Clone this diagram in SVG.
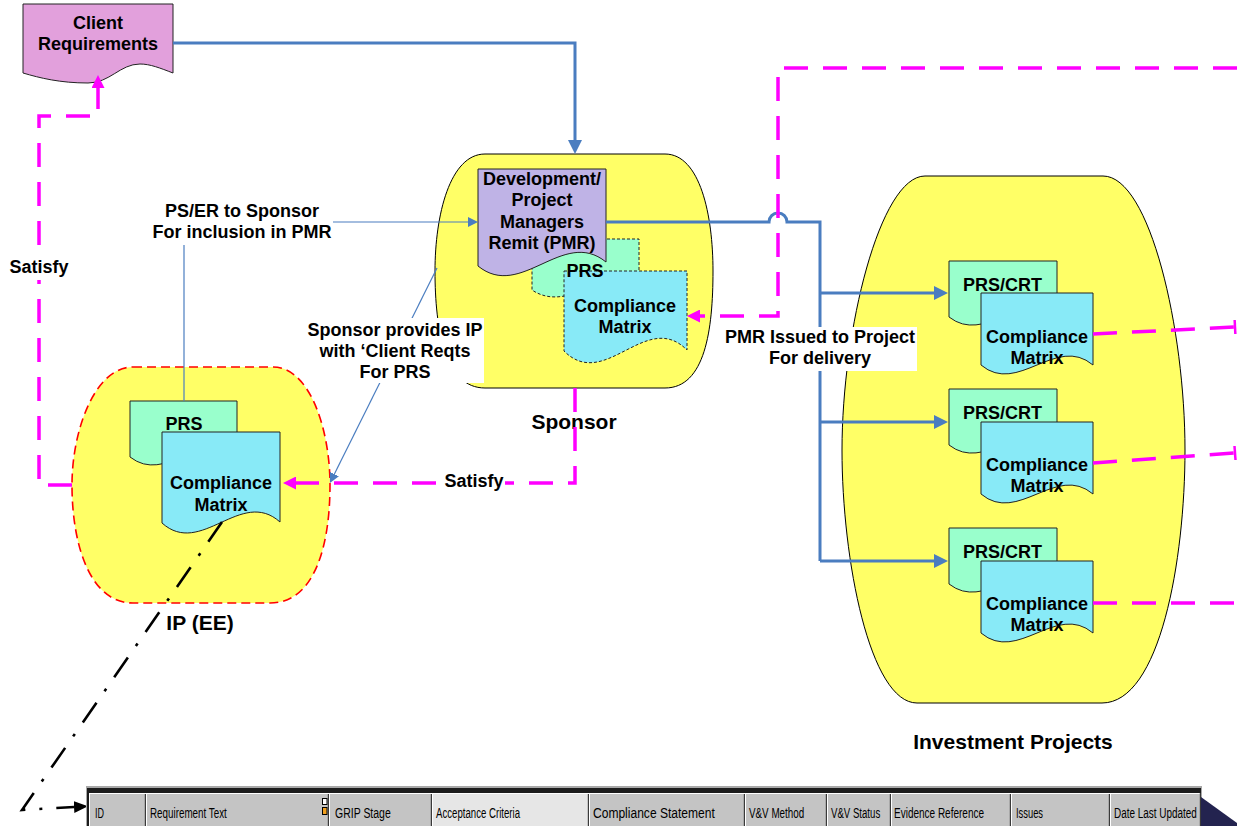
<svg xmlns="http://www.w3.org/2000/svg" width="1237" height="826" viewBox="0 0 1237 826">
<style>
.t{font-family:"Liberation Sans",Arial,sans-serif;font-weight:bold;font-size:18px;text-anchor:middle;fill:#000}
.big{font-size:21px}
.tb{font-family:"Liberation Sans Narrow","Liberation Sans",Arial,sans-serif;font-size:15px;fill:#000}
.blob{fill:#FFFF66;stroke:#000;stroke-width:1}
.ipblob{fill:#FFFF66;stroke:#FF0000;stroke-width:1.6;stroke-dasharray:9 5}
.prs{fill:#99FFCC;stroke:#222;stroke-width:1}
.cm{fill:#88EAF7;stroke:#222;stroke-width:1}
.pmr{fill:#BFB3E6;stroke:#222;stroke-width:1}
.cr{fill:#E2A0DC;stroke:#222;stroke-width:1}
.fine{stroke-dasharray:3 2}
.blue{fill:none;stroke:#4A7DC0;stroke-width:3}
.thin{fill:none;stroke:#4A7DC0;stroke-width:1.2}
.mag{fill:none;stroke:#FF00FF;stroke-width:3.5;stroke-dasharray:24 15}
.dd{fill:none;stroke:#000;stroke-width:2.6;stroke-dasharray:24 14 3 14}
.wbg{fill:#fff}
.cell{fill:#C4C4C4}
.cell2{fill:#E6E6E6}
.dk{stroke:#3a3a3a;stroke-width:1.2;fill:none}
.hl{stroke:#fff;stroke-width:1;fill:none}
</style>
<defs>
<marker id="ab" markerUnits="userSpaceOnUse" markerWidth="14" markerHeight="14" refX="0" refY="7" orient="auto"><path d="M0,0 L14,7 L0,14 Z" fill="#4A7DC0"/></marker>
<marker id="at" markerUnits="userSpaceOnUse" markerWidth="10" markerHeight="10" refX="0" refY="5" orient="auto"><path d="M0,0 L10,5 L0,10 Z" fill="#4A7DC0"/></marker>
<marker id="am" markerUnits="userSpaceOnUse" markerWidth="13" markerHeight="13" refX="0" refY="6.5" orient="auto"><path d="M0,0 L13,6.5 L0,13 Z" fill="#FF00FF"/></marker>
<marker id="ak" markerUnits="userSpaceOnUse" markerWidth="14" markerHeight="12" refX="0" refY="6" orient="auto"><path d="M0,0 L14,6 L0,12 Z" fill="#000"/></marker>
<marker id="tee" markerUnits="userSpaceOnUse" markerWidth="4" markerHeight="16" refX="2" refY="8" orient="auto"><path d="M2,1 V15" stroke="#FF00FF" stroke-width="2.5"/></marker>
</defs>

<g id="client-requirements">
<path class="cr" d="M23,4 H173 V73 C160,68 150,64 140,64 C120,64 110,83 88,83 C60,83 40,78 23,73 Z"/>
<text class="t" x="98" y="29">Client</text>
<text class="t" x="98" y="50">Requirements</text>
</g>

<g id="sponsor">
<path class="blob" d="M485,154 H665 C700,154 713,215 713,271 C713,330 705,388 665,388 H485 C445,388 435,330 435,271 C435,215 450,154 485,154 Z"/>
<g id="sponsor-prs">
<path class="prs fine" d="M532,239 H639 V290 C603,266 568,314 532,290 Z"/>
</g>
<g id="sponsor-cm">
<path class="cm fine" d="M564,271 H687 V350 C646,309 605,392 564,351 Z"/>
<text class="t" x="625" y="312">Compliance</text>
<text class="t" x="625" y="333">Matrix</text>
</g>
<text class="t" x="585" y="277">PRS</text>
<g id="pmr">
<path class="pmr" d="M478,169 H606 V262 C563,227 521,301 478,266 Z"/>
<text class="t" x="542" y="185">Development/</text>
<text class="t" x="542" y="206">Project</text>
<text class="t" x="542" y="228">Managers</text>
<text class="t" x="542" y="249">Remit (PMR)</text>
</g>
<text class="t big" x="574" y="429">Sponsor</text>
</g>

<g id="ip-ee">
<path class="ipblob" d="M133,367 H273 C310,367 330,430 330,485 C330,545 315,603 270,603 H133 C90,603 72,545 72,485 C72,430 95,367 133,367 Z"/>
<g id="ip-prs">
<path class="prs" d="M130,401 H237 V456 C201,428 166,485 130,457 Z"/>
<text class="t" x="184" y="430">PRS</text>
</g>
<g id="ip-cm">
<path class="cm" d="M162,432 H280 V522 C241,487 201,558 162,523 Z"/>
<text class="t" x="221" y="489">Compliance</text>
<text class="t" x="221" y="511">Matrix</text>
</g>
<text class="t big" x="200" y="630">IP (EE)</text>
</g>

<g id="investment-projects">
<path class="blob" d="M925,176 H1103 C1150,176 1185,330 1185,450 C1185,560 1160,703 1102,703 H917 C870,703 842,560 842,450 C842,330 880,176 925,176 Z"/>
<g id="project-1" transform="translate(949,261)">
<path class="prs" d="M0,0 H108 V56 C72,28 36,84 0,56 Z"/>
<text class="t" x="53.5" y="30">PRS/CRT</text>
<path class="cm" d="M32,32 H144 V104 C107,73 69,135 32,104 Z"/>
<text class="t" x="88" y="82">Compliance</text>
<text class="t" x="88" y="103">Matrix</text>
</g>
<g id="project-2" transform="translate(949,389)">
<path class="prs" d="M0,0 H108 V56 C72,28 36,84 0,56 Z"/>
<text class="t" x="53.5" y="30">PRS/CRT</text>
<path class="cm" d="M32,33 H144 V105 C107,74 69,136 32,105 Z"/>
<text class="t" x="88" y="82">Compliance</text>
<text class="t" x="88" y="103">Matrix</text>
</g>
<g id="project-3" transform="translate(949,528)">
<path class="prs" d="M0,0 H108 V56 C72,28 36,84 0,56 Z"/>
<text class="t" x="53.5" y="30">PRS/CRT</text>
<path class="cm" d="M32,33 H144 V105 C107,74 69,136 32,105 Z"/>
<text class="t" x="88" y="82">Compliance</text>
<text class="t" x="88" y="103">Matrix</text>
</g>
<text class="t big" x="1013" y="749">Investment Projects</text>
</g>

<g id="connectors">
<path class="blue" d="M173,43 H575 V140" marker-end="url(#ab)"/>
<path class="blue" d="M606,222 H769 A9,9 0 0 1 787,222 H820 V561"/>
<path class="blue" d="M820,293 H934" marker-end="url(#ab)"/>
<path class="blue" d="M820,422 H934" marker-end="url(#ab)"/>
<path class="blue" d="M820,561 H934" marker-end="url(#ab)"/>
<path class="thin" d="M333,222 H468" marker-end="url(#at)"/>
<path class="thin" d="M184,245 V401"/>
<path class="thin" d="M437,268 L334.4,474" marker-end="url(#at)"/>
<path class="mag" d="M72,485 H39 V116 H98 V88" marker-end="url(#am)"/>
<path class="mag" d="M575,388 V483 H296" marker-end="url(#am)"/>
<path class="mag" d="M1237,68 H778 V316 H700" marker-end="url(#am)"/>
<path class="mag" d="M1093,334 L1235,327" marker-end="url(#tee)"/>
<path class="mag" d="M1093,463 L1235,453" marker-end="url(#tee)"/>
<path class="mag" d="M1093,603 H1237"/>
<path class="dd" d="M222,522 L22,810 L74,807" marker-end="url(#ak)"/>
</g>

<g id="connector-labels">
<text class="t" x="242" y="217">PS/ER to Sponsor</text>
<text class="t" x="242" y="238">For inclusion in PMR</text>
<rect class="wbg" x="8" y="256" width="62" height="24"/>
<text class="t" x="39" y="273">Satisfy</text>
<rect class="wbg" x="305" y="318" width="179" height="65"/>
<text class="t" x="395" y="336">Sponsor provides IP</text>
<text class="t" x="395" y="357">with ‘Client Reqts</text>
<text class="t" x="395" y="378">For PRS</text>
<rect class="wbg" x="443" y="469" width="62" height="23"/>
<text class="t" x="474" y="487">Satisfy</text>
<rect class="wbg" x="722" y="327" width="195" height="44"/>
<text class="t" x="820" y="343">PMR Issued to Project</text>
<text class="t" x="820" y="364">For delivery</text>
</g>

<g id="table">
<rect x="86" y="786" width="1116" height="41" fill="#a8a8a8"/>
<rect x="87" y="788" width="1114" height="39" fill="#1c1c1c"/>
<rect class="cell" x="89" y="793" width="57" height="33"/>
<rect class="cell" x="146" y="793" width="183" height="33"/>
<rect class="cell" x="329" y="793" width="103" height="33"/>
<rect class="cell2" x="432" y="793" width="157" height="33"/>
<rect class="cell" x="589" y="793" width="156" height="33"/>
<rect class="cell" x="745" y="793" width="82" height="33"/>
<rect class="cell" x="827" y="793" width="64" height="33"/>
<rect class="cell" x="891" y="793" width="120" height="33"/>
<rect class="cell" x="1011" y="793" width="99" height="33"/>
<rect class="cell" x="1110" y="793" width="91" height="33"/>
<path class="hl" d="M89,793.5 H1200 M89.5,793 V826 M146.5,794 V826 M329.5,794 V826 M432.5,794 V826 M589.5,794 V826 M745.5,794 V826 M827.5,794 V826 M891.5,794 V826 M1011.5,794 V826 M1110.5,794 V826"/>
<path class="dk" d="M145.4,794 V826 M328.4,794 V826 M431.4,794 V826 M588.4,794 V826 M744.4,794 V826 M826.4,794 V826 M890.4,794 V826 M1010.4,794 V826 M1109.4,794 V826 M1200.4,793 V826"/>
<rect x="322.5" y="798.5" width="4.5" height="6" fill="#fff" stroke="#000" stroke-width="1"/>
<rect x="322.5" y="807.5" width="4.5" height="7" fill="#F0A020" stroke="#000" stroke-width="1"/>
<text class="tb" transform="translate(95,818) scale(0.6,1)" textLength="15" lengthAdjust="spacingAndGlyphs">ID</text>
<text class="tb" transform="translate(150,818) scale(0.6,1)" textLength="128" lengthAdjust="spacingAndGlyphs">Requirement Text</text>
<text class="tb" transform="translate(335,818) scale(0.6,1)" textLength="93" lengthAdjust="spacingAndGlyphs">GRIP Stage</text>
<text class="tb" transform="translate(436,818) scale(0.6,1)" textLength="140" lengthAdjust="spacingAndGlyphs">Acceptance Criteria</text>
<text class="tb" transform="translate(593,818) scale(0.6,1)" textLength="203" lengthAdjust="spacingAndGlyphs">Compliance Statement</text>
<text class="tb" transform="translate(749,818) scale(0.6,1)" textLength="92" lengthAdjust="spacingAndGlyphs">V&amp;V Method</text>
<text class="tb" transform="translate(831,818) scale(0.6,1)" textLength="82" lengthAdjust="spacingAndGlyphs">V&amp;V Status</text>
<text class="tb" transform="translate(894,818) scale(0.6,1)" textLength="150" lengthAdjust="spacingAndGlyphs">Evidence Reference</text>
<text class="tb" transform="translate(1016,818) scale(0.6,1)" textLength="45" lengthAdjust="spacingAndGlyphs">Issues</text>
<text class="tb" transform="translate(1114,818) scale(0.6,1)" textLength="138" lengthAdjust="spacingAndGlyphs">Date Last Updated</text>
<polygon points="1201,797 1237,823 1237,826 1201,826" fill="#23234F"/>
</g>
</svg>
